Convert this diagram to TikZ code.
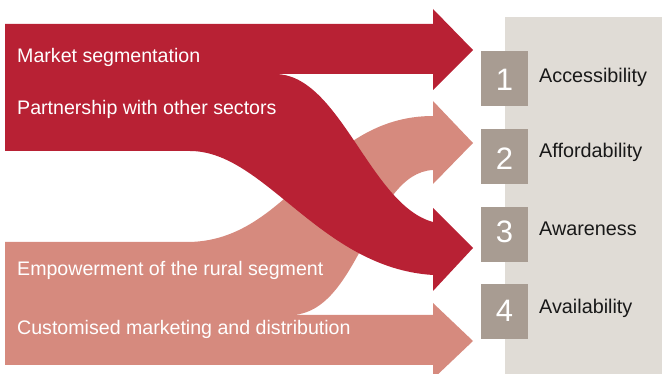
\documentclass[tikz,border=0pt]{standalone}
\usepackage{fontspec}
\setmainfont{Liberation Sans}
\definecolor{deepred}{RGB}{184,33,52}
\definecolor{softred}{RGB}{214,138,126}
\definecolor{panelgrey}{RGB}{224,220,214}
\definecolor{boxgrey}{RGB}{168,156,146}
\begin{document}
\begin{tikzpicture}[x=1pt,y=-1pt,
  flowtext/.style={anchor=base west,text=white,font=\fontsize{19.6}{21}\selectfont,inner sep=0pt},
  goaltext/.style={anchor=base west,text=black!90,font=\fontsize{19.8}{21}\selectfont,inner sep=0pt},
  numbox/.style={fill=boxgrey,minimum width=47pt,minimum height=55pt,inner sep=0pt,anchor=north west},
  numtext/.style={anchor=base,text=white,font=\fontsize{31}{32}\selectfont,inner sep=0pt}]
\useasboundingbox (0,0) rectangle (662,374);

% side panel
\fill[panelgrey] (505,17) rectangle (662,374);

% light flows: rural empowerment and customised marketing
\fill[softred] (5,242) -- (187,242)
  .. controls (290,242) and (320,116) .. (433,116)
  -- (433,101) -- (473,143) -- (433,184) -- (433,170)
  .. controls (370,173) and (360,315) .. (290,315)
  -- (433,315) -- (433,303) -- (473,341) -- (433,379) -- (433,365)
  -- (5,365) -- cycle;

% dark flows: segmentation and partnerships
\fill[deepred] (5,24) -- (433,24) -- (433,9) -- (473,50) -- (433,90) -- (433,74)
  -- (275,74) .. controls (340,74) and (370,205) .. (433,222)
  -- (433,208) -- (473,248) -- (433,291) -- (433,275)
  .. controls (320,268) and (265,151) .. (190,151)
  -- (5,151) -- cycle;

% flow labels
\node[flowtext] (ms) at (17,63) {Market segmentation};
\node[flowtext] (ps) at (17,115) {Partnership with other sectors};
\node[flowtext] (er) at (17,276) {Empowerment of the rural segment};
\node[flowtext] (cm) at (17,335) {Customised marketing and distribution};

% numbered goals
\node[numbox] (b1) at (481,51) {};
\node[numbox] (b2) at (481,129) {};
\node[numbox] (b3) at (481,207) {};
\node[numbox] (b4) at (481,284) {};
\node[numtext] (n1) at (504.5,91) {1};
\node[numtext] (n2) at (504.5,170) {2};
\node[numtext] (n3) at (504.5,243) {3};
\node[numtext] (n4) at (504.5,322) {4};
\node[goaltext] (g1) at (539,83) {Accessibility};
\node[goaltext] (g2) at (539,158) {Affordability};
\node[goaltext] (g3) at (539,236) {Awareness};
\node[goaltext] (g4) at (539,314) {Availability};
\end{tikzpicture}
\end{document}
